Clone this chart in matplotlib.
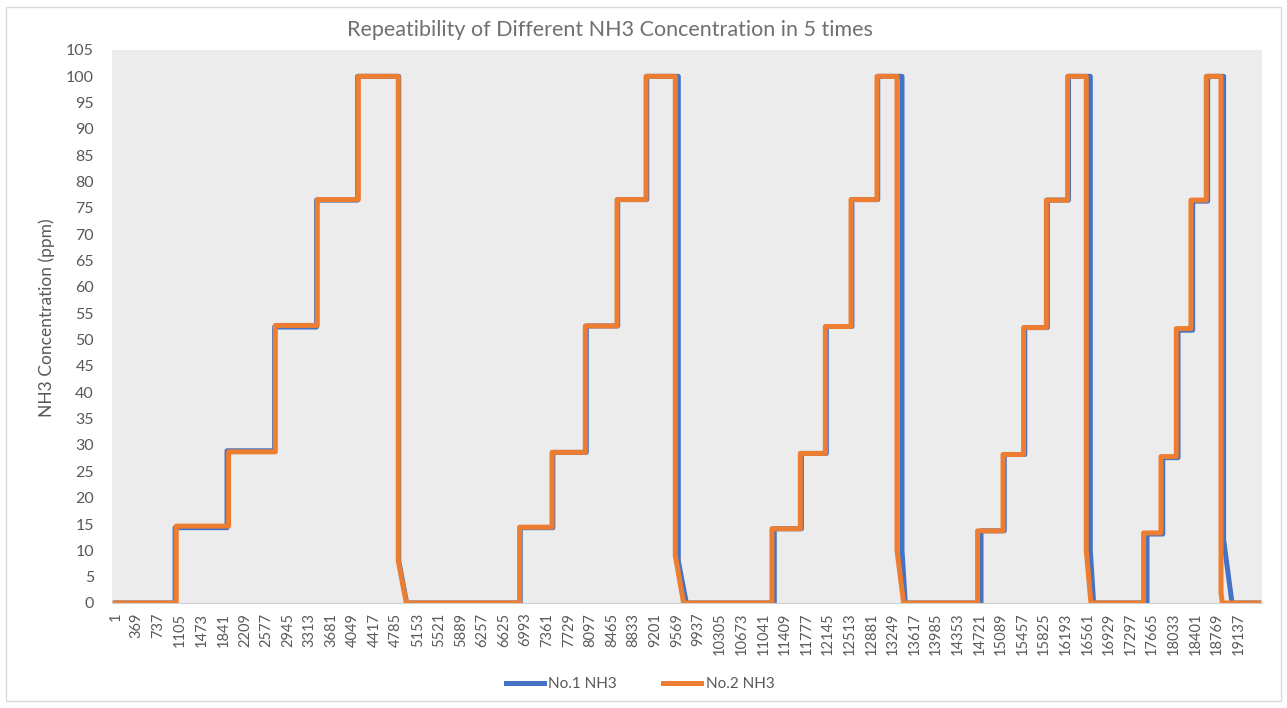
import numpy as np
import matplotlib.pyplot as plt
from matplotlib.patches import Rectangle
from matplotlib.lines import Line2D

plt.rcParams['font.family'] = ['Lato', 'DejaVu Sans']

# sample index where each concentration step starts (5 cycles x 5 steps)
rise_no1 = [[1020, 1905, 2715, 3430, 4130],
            [6900, 7455, 8025, 8560, 9055],
            [11227, 11690, 12115, 12550, 12990],
            [14749, 15145, 15495, 15880, 16240],
            [17577, 17845, 18105, 18355, 18610]]
rise_no2 = [[1040, 1931, 2727, 3442, 4141],
            [6889, 7441, 8008, 8548, 9042],
            [11188, 11671, 12097, 12535, 12977],
            [14691, 15124, 15475, 15862, 16225],
            [17519, 17815, 18076, 18326, 18587]]
# plateau concentration (ppm)
level_no1 = [[14.3, 28.9, 52.4, 76.5, 100],
             [14.3, 28.6, 52.6, 76.6, 100],
             [14.1, 28.4, 52.5, 76.6, 100],
             [13.7, 28.2, 52.3, 76.5, 100],
             [13.1, 27.6, 51.8, 76.3, 100]]
level_no2 = [[14.6, 28.7, 52.7, 76.6, 100],
             [14.4, 28.6, 52.6, 76.6, 100],
             [14.1, 28.4, 52.5, 76.6, 100],
             [13.7, 28.2, 52.3, 76.5, 100],
             [13.3, 27.8, 52.1, 76.5, 100]]
# fall from 100 ppm: start, level after the fast drop, back to zero
drop_no1 = [4830, 9592, 13403, 16611, 18882]
tail_no1 = [8, 8, 10, 10, 12]
zero_no1 = [4965, 9729, 13459, 16667, 19025]
drop_no2 = [4822, 9541, 13318, 16542, 18838]
tail_no2 = [8, 9, 10, 10, 2]
zero_no2 = [4959, 9683, 13431, 16622, 18860]

n_points = 19480
tick_pos = np.arange(1, n_points, 368)


def build(rise, level, drop, tail, zero):
    xs, ys = [1], [0]
    for c in range(len(rise)):
        prev = 0
        for r, l in zip(rise[c], level[c]):
            xs += [r, r]
            ys += [prev, l]
            prev = l
        xs += [drop[c], drop[c], zero[c]]
        ys += [100, tail[c], 0]
    xs.append(n_points)
    ys.append(0)
    return xs, ys


fig = plt.figure(figsize=(12.87, 7.08), dpi=100)
ax = fig.add_axes([112 / 1287, 1 - 603 / 708, 1150 / 1287, 553 / 708])
ax.set_facecolor('#ECECEC')

x1, y1 = build(rise_no1, level_no1, drop_no1, tail_no1, zero_no1)
x2, y2 = build(rise_no2, level_no2, drop_no2, tail_no2, zero_no2)
ax.plot(x1, y1, color='#4472C4', lw=3.6, solid_joinstyle='round', label='No.1 NH3')
ax.plot(x2, y2, color='#ED7D31', lw=3.6, solid_joinstyle='round', label='No.2 NH3')

ax.set_xlim(-55, 19536)
ax.set_ylim(0, 105)
ax.set_yticks(np.arange(0, 106, 5))
ax.set_xticks(tick_pos)
ax.set_xticklabels([str(t) for t in tick_pos], rotation=90)
ax.tick_params(axis='y', length=0, pad=13, labelsize=11.5, labelcolor='#595959')
ax.tick_params(axis='x', length=0, pad=7, labelsize=10.5, labelcolor='#595959')
for s in ['top', 'right', 'left']:
    ax.spines[s].set_visible(False)
ax.spines['bottom'].set_color('#D0D0D0')

fig.text(610 / 1287, 1 - 30 / 708, 'Repeatibility of Different NH3 Concentration in 5 times',
         ha='center', va='center', fontsize=15.5, color='#707070')
fig.text(47 / 1287, 1 - 318 / 708, 'NH3 Concentration (ppm)', rotation=90,
         ha='center', va='center', fontsize=12.5, color='#595959')

handles = [Line2D([], [], color='#4472C4', lw=3.6), Line2D([], [], color='#ED7D31', lw=3.6)]
fig.legend(handles, ['No.1 NH3', 'No.2 NH3'], loc='center', bbox_to_anchor=(640 / 1287, 1 - 684 / 708),
           ncol=2, frameon=False, fontsize=11, labelcolor='#595959', handlelength=2.5,
           columnspacing=3, handletextpad=0.3)

fig.add_artist(Rectangle((6 / 1287, 7 / 708), 1275 / 1287, 694 / 708, transform=fig.transFigure,
                         fill=False, ec='#D9D9D9', lw=1))

fig.savefig('out.png', dpi=100)
